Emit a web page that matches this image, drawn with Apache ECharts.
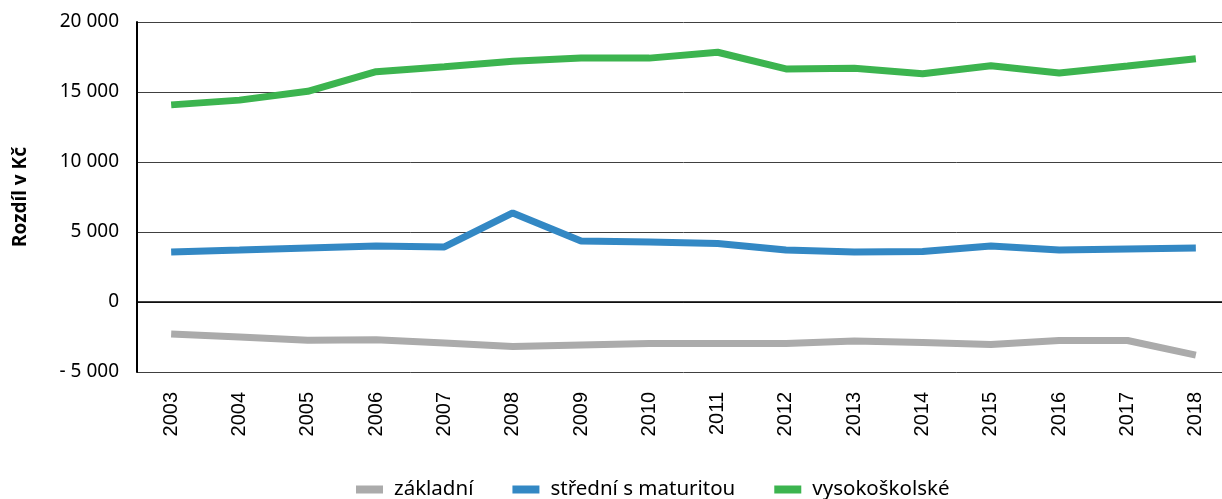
<!DOCTYPE html>
<html>
<head>
<meta charset="utf-8">
<script src="https://cdn.jsdelivr.net/npm/echarts@6/dist/echarts.min.js"></script>
<style>
html,body{margin:0;padding:0;background:#fff;overflow:hidden;}
#chart{width:1240px;height:499px;}
</style>
</head>
<body>
<div id="chart"></div>
<script>
const years = ['2003','2004','2005','2006','2007','2008','2009','2010','2011','2012','2013','2014','2015','2016','2017','2018'];
const zakladni = [-2290,-2500,-2740,-2700,-2930,-3180,-3070,-2960,-2960,-2960,-2790,-2890,-3040,-2750,-2750,-3790];
const stredni = [3570,3710,3860,4000,3930,6360,4360,4290,4180,3710,3570,3610,4000,3710,3790,3860];
const vysokoskolske = [14080,14420,15050,16450,16800,17200,17420,17420,17840,16650,16700,16300,16880,16350,16850,17380];
const seriesNames = ['základní','střední s maturitou','vysokoškolské'];
const colors = ['#ABABAB','#3388C4','#3CB44F'];
const yTicks = {min:-5000, max:20000, interval:5000};

function fmt(v){
  const s = String(Math.abs(v));
  const t = s.replace(/\B(?=(\d{3})+(?!\d))/g,' ');
  return v < 0 ? '- ' + t : t;
}

const chart = echarts.init(document.getElementById('chart'), null, {renderer:'canvas'});
const data = [zakladni, stredni, vysokoskolske];
chart.setOption({
  animation:false,
  backgroundColor:'#fff',
  grid:{left:137, top:22, bottom:127, right:10},
  legend:{
    top:474, left:351,
    itemWidth:27, itemHeight:8, itemGap:39,
    icon:'rect',
    textStyle:{fontFamily:'Noto Sans', fontSize:20.5, color:'#000', padding:[0,0,0,6]},
    data:seriesNames
  },
  xAxis:{
    type:'category', data:years, boundaryGap:true,
    axisLine:{lineStyle:{color:'#000', width:1.5}},
    axisTick:{show:false},
    axisLabel:{rotate:90, margin:20, fontFamily:'Liberation Sans', fontSize:20, color:'#000'}
  },
  yAxis:{
    type:'value', min:yTicks.min, max:yTicks.max, interval:yTicks.interval,
    name:'Rozdíl v Kč', nameLocation:'middle', nameRotate:90, nameGap:107,
    nameTextStyle:{fontFamily:'Noto Sans', fontWeight:'bold', fontSize:19, color:'#000'},
    axisLine:{show:true, lineStyle:{color:'#000', width:2}},
    axisTick:{show:false},
    splitLine:{lineStyle:{color:'#404040', width:1}},
    axisLabel:{margin:18, fontFamily:'Noto Sans', fontSize:19, color:'#000', formatter:fmt}
  },
  series: seriesNames.map((n,i)=>({
    name:n, type:'line', data:data[i], symbol:'none',
    lineStyle:{color:colors[i], width:7},
    itemStyle:{color:colors[i]}
  }))
});
</script>
</body>
</html>
